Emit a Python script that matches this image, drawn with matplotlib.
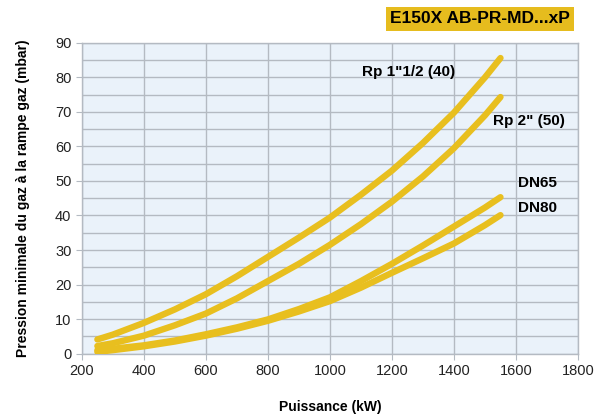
import numpy as np
import matplotlib
matplotlib.use("Agg")
import matplotlib.pyplot as plt
from matplotlib.ticker import MultipleLocator

plt.rcParams['font.family'] = ['Liberation Sans', 'DejaVu Sans']

# Données
puissance = [250, 300, 400, 500, 600, 700, 800, 900, 1000, 1100, 1200, 1300, 1400, 1500, 1550]
rp_1_1_2 = [4.1, 5.5, 8.9, 12.8, 17.2, 22.4, 28.0, 33.6, 39.4, 46.0, 53.0, 61.0, 69.8, 80.0, 85.6]
rp_2 = [2.2, 3.0, 5.2, 8.2, 11.6, 16.0, 21.0, 26.0, 31.5, 37.5, 44.0, 51.3, 59.5, 69.0, 74.3]
dn65 = [1.0, 1.4, 2.4, 3.8, 5.6, 7.6, 9.9, 12.9, 16.3, 21.0, 26.0, 31.3, 36.8, 42.3, 45.3]
dn80 = [0.5, 1.0, 2.1, 3.5, 5.2, 7.2, 9.5, 12.2, 15.2, 19.1, 23.4, 27.6, 31.9, 37.2, 40.1]

noms = ['Rp 1"1/2 (40)', 'Rp 2" (50)', 'DN65', 'DN80']
pos_labels = [(1103, 81.6), (1526, 67.4), (1606, 49.4), (1606, 42.1)]

jaune = '#E8BF1F'
gris = '#B4BAC2'

fig = plt.figure(figsize=(6.11, 4.16), dpi=100)
ax = fig.add_axes([0.134, 0.150, 0.812, 0.747])
ax.set_facecolor('#EAF2FA')

for serie in [rp_1_1_2, rp_2, dn65, dn80]:
    ax.plot(puissance, serie, color=jaune, lw=4.6, solid_capstyle='round',
            solid_joinstyle='round', zorder=3)

for nom, (x, y) in zip(noms, pos_labels):
    ax.text(x, y, nom, fontsize=11, fontweight='bold', va='center', ha='left', zorder=4)

ax.set_xlim(200, 1800)
ax.set_ylim(0, 90)
ax.xaxis.set_major_locator(MultipleLocator(200))
ax.yaxis.set_major_locator(MultipleLocator(10))
ax.yaxis.set_minor_locator(MultipleLocator(5))
ax.grid(True, which='both', color=gris, lw=1.0, zorder=1)
ax.set_axisbelow(True)

for s in ax.spines.values():
    s.set_color(gris)
    s.set_linewidth(1.0)
ax.tick_params(axis='both', which='major', colors=gris, length=4, labelsize=10.5, labelcolor='#222222')
ax.tick_params(axis='y', which='minor', length=0)

ax.set_xlabel('Puissance (kW)', fontsize=10, fontweight='bold', labelpad=16)
ax.set_ylabel('Pression minimale du gaz à la rampe gaz (mbar)', fontsize=10, fontweight='bold', labelpad=18)

# Cartouche en haut à droite
fig.text(0.933, 0.9545, 'E150X AB-PR-MD...xP', fontsize=12.5, fontweight='bold', ha='right', va='center',
         bbox=dict(boxstyle='square,pad=0.25', fc='#E6BC1E', ec='none'))

fig.savefig('out.png', dpi=100)
